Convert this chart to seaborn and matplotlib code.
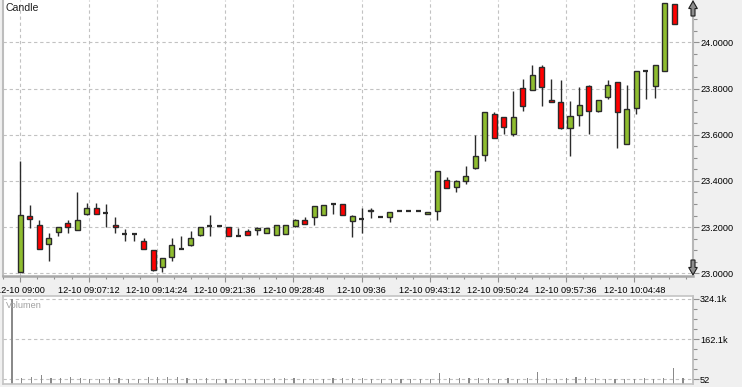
import numpy as np
import pandas as pd
import matplotlib
matplotlib.use("Agg")
import matplotlib.pyplot as plt
import seaborn as sns
from matplotlib.patches import FancyArrow
from matplotlib.ticker import FixedLocator, MultipleLocator

# ---------------- data ----------------
minutes = list(range(70))  # 1-minute candles from 12-10 09:00
opens = [23.004, 23.249, 23.210, 23.127, 23.179, 23.218, 23.188, 23.258, 23.284, 23.261,
         23.210, 23.169, 23.169, 23.141, 23.100, 23.026, 23.070, 23.105, 23.122, 23.164,
         23.205, 23.205, 23.201, 23.162, 23.185, 23.189, 23.175, 23.166, 23.170, 23.205,
         23.231, 23.244, 23.253, 23.301, 23.301, 23.227, 23.236, 23.271, 23.244, 23.244,
         23.268, 23.271, 23.271, 23.258, 23.269, 23.404, 23.374, 23.400, 23.458, 23.512,
         23.690, 23.677, 23.603, 23.802, 23.794, 23.893, 23.752, 23.742, 23.630, 23.686,
         23.811, 23.703, 23.762, 23.828, 23.562, 23.716, 23.877, 23.809, 23.877, 24.164]
highs = [23.487, 23.294, 23.233, 23.175, 23.201, 23.233, 23.352, 23.303, 23.303, 23.298,
         23.242, 23.194, 23.169, 23.153, 23.100, 23.065, 23.154, 23.163, 23.185, 23.201,
         23.253, 23.205, 23.201, 23.196, 23.192, 23.201, 23.196, 23.210, 23.210, 23.237,
         23.242, 23.292, 23.297, 23.301, 23.301, 23.253, 23.284, 23.284, 23.244, 23.266,
         23.268, 23.271, 23.271, 23.266, 23.441, 23.418, 23.404, 23.463, 23.600, 23.699,
         23.699, 23.677, 23.791, 23.842, 23.901, 23.901, 23.842, 23.838, 23.746, 23.806,
         23.815, 23.751, 23.838, 23.828, 23.817, 23.877, 23.877, 23.901, 24.171, 24.164]
lows = [23.004, 23.196, 23.105, 23.055, 23.160, 23.173, 23.188, 23.252, 23.258, 23.199,
        23.173, 23.138, 23.138, 23.105, 23.009, 23.007, 23.055, 23.105, 23.119, 23.160,
        23.160, 23.205, 23.162, 23.162, 23.164, 23.164, 23.175, 23.166, 23.170, 23.201,
        23.214, 23.211, 23.253, 23.255, 23.253, 23.156, 23.173, 23.240, 23.244, 23.223,
        23.268, 23.271, 23.271, 23.258, 23.230, 23.371, 23.354, 23.387, 23.451, 23.487,
        23.587, 23.603, 23.594, 23.702, 23.794, 23.726, 23.742, 23.626, 23.509, 23.637,
        23.603, 23.699, 23.755, 23.541, 23.562, 23.690, 23.755, 23.759, 23.877, 24.079]
closes = [23.253, 23.236, 23.105, 23.153, 23.201, 23.201, 23.231, 23.284, 23.258, 23.261,
          23.201, 23.169, 23.169, 23.105, 23.013, 23.065, 23.122, 23.105, 23.153, 23.201,
          23.205, 23.205, 23.162, 23.162, 23.166, 23.196, 23.196, 23.210, 23.210, 23.233,
          23.214, 23.292, 23.297, 23.301, 23.253, 23.249, 23.236, 23.276, 23.244, 23.266,
          23.268, 23.271, 23.271, 23.266, 23.441, 23.371, 23.400, 23.422, 23.506, 23.699,
          23.587, 23.634, 23.677, 23.726, 23.858, 23.805, 23.742, 23.630, 23.682, 23.729,
          23.703, 23.751, 23.814, 23.699, 23.713, 23.877, 23.877, 23.901, 24.171, 24.079]
volumes = [324100, 6000, 10000, 16000, 5000, 6000, 8000, 4000, 3000, 3000,
           9000, 5000, 3000, 3000, 8000, 8000, 10000, 10000, 5000, 3000,
           5000, 2000, 3000, 2000, 2000, 2000, 3000, 7000, 7000, 7000,
           3000, 3000, 3000, 7000, 7000, 7000, 7000, 3000, 2000, 3000,
           52, 2000, 2000, 3000, 24000, 7000, 7000, 7000, 7000, 7000,
           3000, 5000, 3000, 5000, 30000, 6000, 3000, 7000, 8000, 9000,
           5000, 3000, 3000, 3000, 3000, 5000, 3000, 4000, 46000, 4000]

x_tick_minutes = [0, 7.2, 14.4, 21.6, 28.8, 36, 43.2, 50.4, 57.6, 64.8]
x_tick_labels = ["12-10 09:00", "12-10 09:07:12", "12-10 09:14:24", "12-10 09:21:36",
                 "12-10 09:28:48", "12-10 09:36", "12-10 09:43:12", "12-10 09:50:24",
                 "12-10 09:57:36", "12-10 10:04:48"]
price_ticks = [23.0, 23.2, 23.4, 23.6, 23.8, 24.0]
vol_ticks = [52, 162076, 324100]
vol_tick_labels = ["52", "162.1k", "324.1k"]

# ---------------- style ----------------
sns.set_theme(style="white")
plt.rcParams["font.family"] = ["Liberation Sans", "DejaVu Sans"]

GREEN = "#8fbd2f"
RED = "#ff0000"
DARK = "#2b2b2b"
GRID = "#c2c2c2"
AXC = "#a8a8a8"

W, H = 742, 387
fig = plt.figure(figsize=(W / 100, H / 100), dpi=100, facecolor="#f0f0f0")

# ---------------- candle panel ----------------
ax = fig.add_axes([3 / W, 1 - 276 / H, 690 / W, 276 / H], facecolor="white")
df = pd.DataFrame({"m": minutes, "o": opens, "h": highs, "l": lows, "c": closes})
up = df[df.c > df.o]
dn = df[df.c < df.o]
dj = df[df.c == df.o]

ax.vlines(df.m, df.l, df.h, color=DARK, lw=1.0, zorder=2)
bw = 0.53
ax.bar(up.m, up.c - up.o, bottom=up.o, width=bw, color=GREEN, edgecolor=DARK, lw=1.0, zorder=3)
ax.bar(dn.m, dn.o - dn.c, bottom=dn.c, width=bw, color=RED, edgecolor=DARK, lw=1.0, zorder=3)
ax.hlines(dj.c, dj.m - bw / 2, dj.m + bw / 2, color=DARK, lw=1.6, zorder=3)

ax.set_xlim(-1.83, 70.98)
ax.set_ylim(22.9884, 24.1833)
ax.xaxis.set_major_locator(FixedLocator(x_tick_minutes))
ax.set_xticklabels(x_tick_labels)
ax.xaxis.set_minor_locator(MultipleLocator(1.8))
ax.yaxis.set_major_locator(FixedLocator(price_ticks))
ax.set_yticklabels([f"{v:.4f}" for v in price_ticks])
ax.yaxis.set_minor_locator(MultipleLocator(0.05))
ax.yaxis.tick_right()
ax.grid(True, which="major", color=GRID, linestyle=(0, (3, 2.5)), lw=0.8)
ax.set_axisbelow(True)
for s in ["top"]:
    ax.spines[s].set_visible(False)
ax.spines["left"].set_color("#bdbdbd")
ax.spines["left"].set_linewidth(1.5)
ax.spines["bottom"].set_color(AXC)
ax.spines["bottom"].set_linewidth(1.8)
ax.spines["right"].set_color("#b8b8b8")
ax.spines["right"].set_linewidth(1.5)
ax.tick_params(axis="x", which="major", length=4, width=0.8, color="#909090", pad=3,
               labelsize=6.6, labelcolor="black", bottom=True)
ax.tick_params(axis="x", which="minor", length=2.5, width=0.8, color="#909090", bottom=True)
ax.tick_params(axis="y", which="major", length=4.5, width=0.8, color="#909090", pad=1,
               labelsize=6.6, labelcolor="black", right=True, left=False)
ax.tick_params(axis="y", which="minor", length=3, width=0.8, color="#909090", right=True, left=False)

# scroll arrows
ax.add_patch(FancyArrow(1.0, 0.942, 0, 0.054, width=0.0058, head_width=0.0125, head_length=0.027,
                        length_includes_head=True, transform=ax.transAxes, clip_on=False,
                        fc="#8c8c8c", ec="#1e1e1e", lw=0.8, zorder=6))
ax.add_patch(FancyArrow(1.0, 0.058, 0, -0.054, width=0.0058, head_width=0.0125, head_length=0.027,
                        length_includes_head=True, transform=ax.transAxes, clip_on=False,
                        fc="#8c8c8c", ec="#1e1e1e", lw=0.8, zorder=6))

fig.text(6 / W, 1 - 8 / H, "Candle", fontsize=7.6, va="center", ha="left", color="#202020")

# ---------------- volume panel ----------------
ax2 = fig.add_axes([3 / W, 3 / H, 690 / W, 88 / H], facecolor="white")
vol_bottom = -18900
sns.barplot(x=minutes, y=volumes, native_scale=True, width=0.12, color="#8a8a8a",
            saturation=1, linewidth=0, ax=ax2)
for p in ax2.patches:
    top = p.get_y() + p.get_height()
    p.set_y(vol_bottom)
    p.set_height(top - vol_bottom)
ax2.set_xlim(-0.93, 70.03)
ax2.set_ylim(vol_bottom, 336200)
ax2.set_xticks([])
ax2.set_xlabel("")
ax2.set_ylabel("")
ax2.yaxis.set_major_locator(FixedLocator(vol_ticks))
ax2.set_yticklabels(vol_tick_labels)
ax2.yaxis.set_minor_locator(FixedLocator(np.linspace(vol_ticks[0], vol_ticks[-1], 9)))
ax2.yaxis.tick_right()
ax2.grid(True, which="major", axis="y", color=GRID, linestyle=(0, (3, 2.5)), lw=0.8)
ax2.set_axisbelow(True)
for s in ax2.spines.values():
    s.set_color("#c4c4c4")
    s.set_linewidth(1.2)
ax2.spines["right"].set_color("#b8b8b8")
ax2.tick_params(axis="y", which="major", length=4, width=0.8, color="#909090", pad=1,
                labelsize=6.6, labelcolor="black", right=True, left=False)
ax2.tick_params(axis="y", which="minor", length=3, width=0.8, color="#909090", right=True, left=False)
fig.text(6 / W, 1 - 305 / H, "Volumen", fontsize=6.6, va="center", ha="left", color="#a0a0a0")

fig.savefig("out.png", dpi=100, facecolor=fig.get_facecolor())
